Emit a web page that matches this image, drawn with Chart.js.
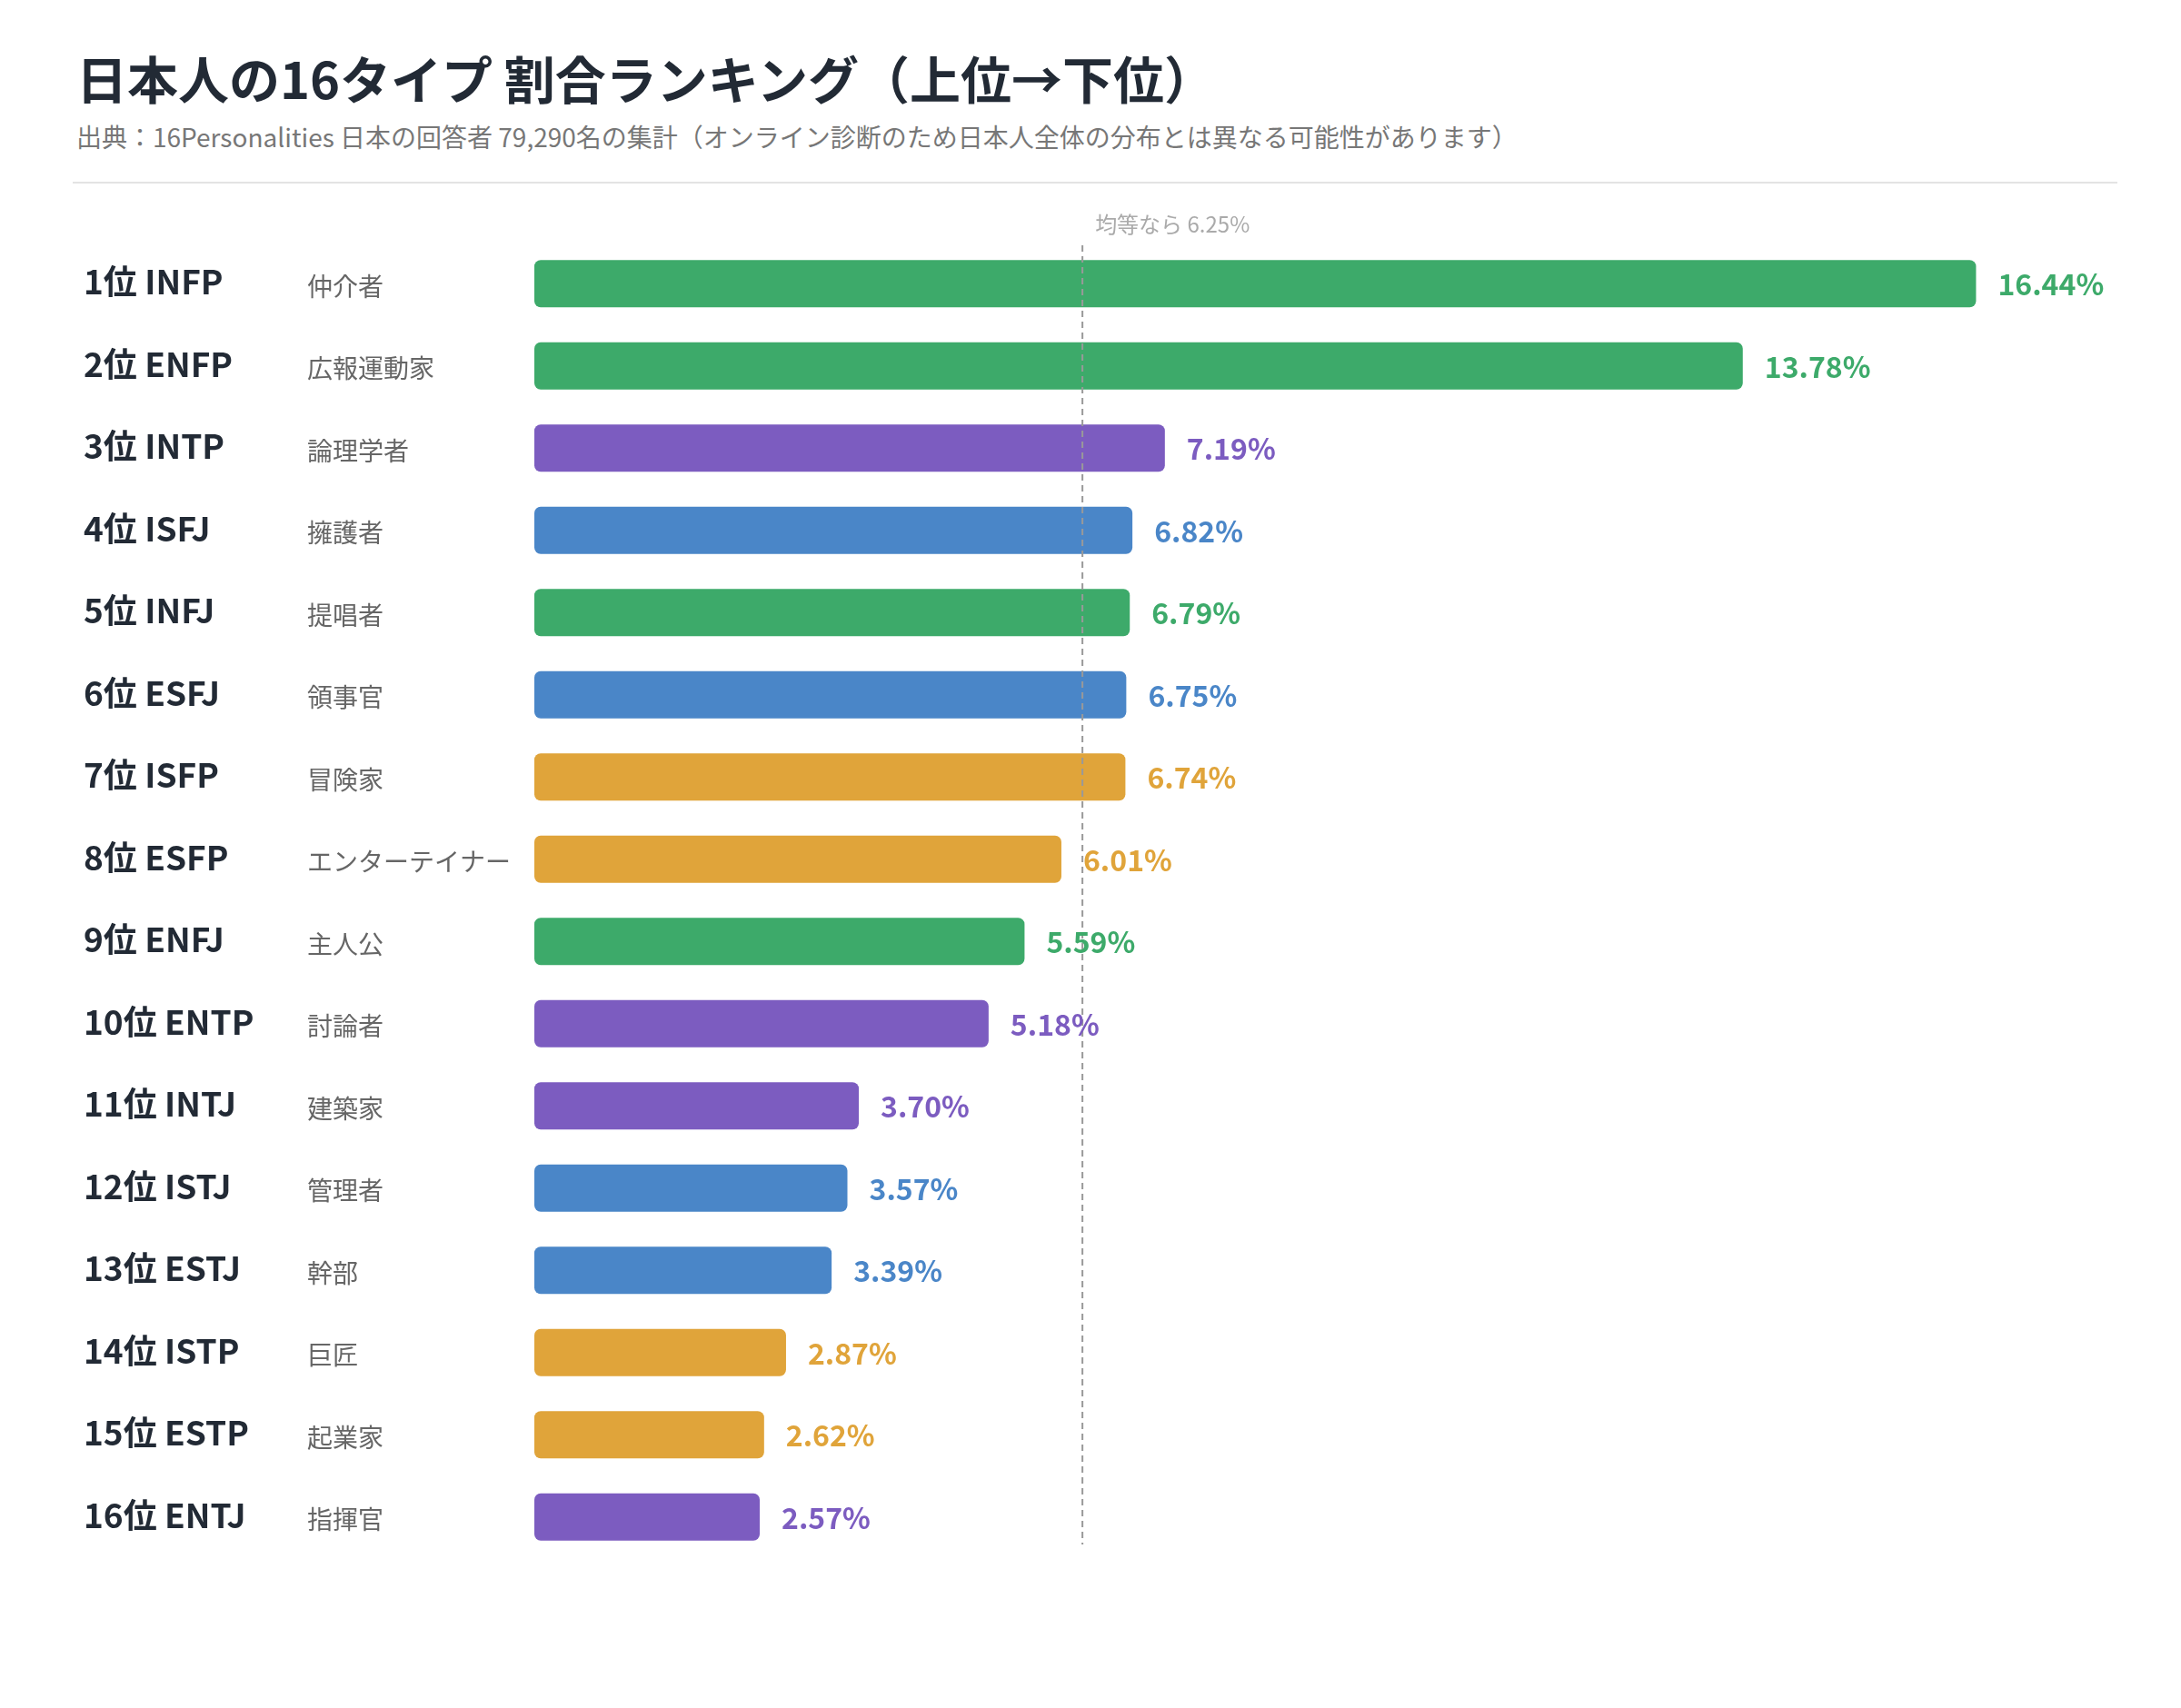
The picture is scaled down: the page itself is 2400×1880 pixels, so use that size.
<!DOCTYPE html>
<html><head><meta charset="utf-8">
<script src="https://cdn.jsdelivr.net/npm/chart.js@4"></script>
<style>
body{margin:0;background:#fff;font-family:"Noto Sans CJK JP","Noto Sans",sans-serif;}
#wrap{position:relative;width:2400px;height:1880px;}
#title{position:absolute;left:84px;top:44px;font-size:56px;font-weight:700;color:#222a35;}
#sub{position:absolute;left:84px;top:130px;font-size:28px;color:#777;}
#sep{position:absolute;left:80px;top:200px;width:2250px;height:2px;background:#e3e3e3;}
canvas{position:absolute;left:0;top:0;}
</style></head><body>
<div id="wrap">
<div id="title">日本人の16タイプ 割合ランキング（上位→下位）</div>
<div id="sub">出典：16Personalities 日本の回答者 79,290名の集計（オンライン診断のため日本人全体の分布とは異なる可能性があります）</div>
<div id="sep"></div>
<canvas id="c" width="2400" height="1880"></canvas>
</div>
<script>
const types=["INFP","ENFP","INTP","ISFJ","INFJ","ESFJ","ISFP","ESFP","ENFJ","ENTP","INTJ","ISTJ","ESTJ","ISTP","ESTP","ENTJ"];
const roles=["仲介者","広報運動家","論理学者","擁護者","提唱者","領事官","冒険家","エンターテイナー","主人公","討論者","建築家","管理者","幹部","巨匠","起業家","指揮官"];
const values=[16.44,13.78,7.19,6.82,6.79,6.75,6.74,6.01,5.59,5.18,3.70,3.57,3.39,2.87,2.62,2.57];
const baseline=6.25;
const groupColors={NF:"#3daa6a",NT:"#7c5cc0",SJ:"#4a86c8",SP:"#e0a43a"};
function grp(t){if(t[1]==="N")return t[2]==="F"?"NF":"NT";return t[3]==="J"?"SJ":"SP";}
const colors=types.map(t=>groupColors[grp(t)]);
const F='"Noto Sans CJK JP","Noto Sans",sans-serif';
const deco={id:"deco",afterDatasetsDraw(ch){
 const c=ch.ctx,x=ch.scales.x,y=ch.scales.y;
 c.save();
 const bx=x.getPixelForValue(baseline);
 c.strokeStyle="#999";c.lineWidth=2;c.setLineDash([7,5]);
 c.beginPath();c.moveTo(bx,270);c.lineTo(bx,1700);c.stroke();c.setLineDash([]);
 c.fillStyle="#aaa";c.font="24px "+F;c.textBaseline="middle";c.textAlign="left";
 c.fillText("均等なら 6.25%",bx+14,247);
 const meta=ch.getDatasetMeta(0);
 types.forEach((t,i)=>{
  const py=y.getPixelForValue(i);
  c.fillStyle="#222a35";c.font="bold 37px "+F;c.fillText((i+1)+"位 "+t,92,py-2);
  c.fillStyle="#666";c.font="28px "+F;c.fillText(roles[i],338,py+3);
  c.fillStyle=colors[i];c.font="bold 32px "+F;
  c.fillText(values[i].toFixed(2)+"%",meta.data[i].x+24,py+1);
 });
 c.restore();
}};
new Chart(document.getElementById("c"),{type:"bar",
 data:{labels:types,datasets:[{data:values,backgroundColor:colors,borderRadius:7,borderSkipped:false,barPercentage:1,categoryPercentage:0.575}]},
 options:{indexAxis:"y",responsive:false,devicePixelRatio:1,animation:false,
  layout:{padding:{left:588,right:75,top:267,bottom:165}},
  scales:{x:{display:false,min:0,max:18},y:{display:false}},
  plugins:{legend:{display:false},tooltip:{enabled:false}}},
 plugins:[deco]});
</script>
</body></html>
